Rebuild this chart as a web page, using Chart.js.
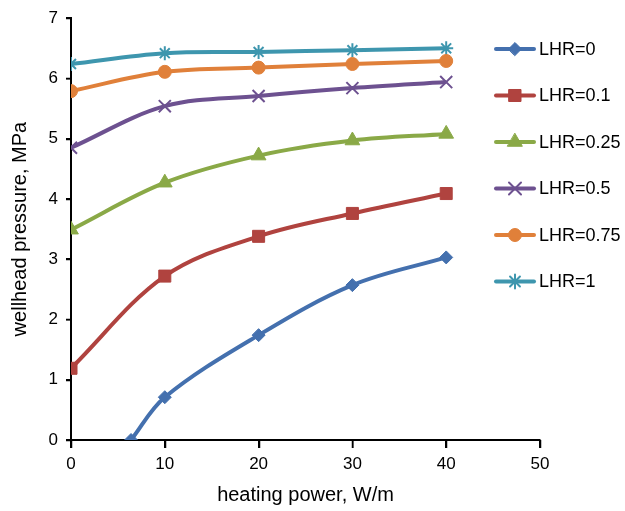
<!DOCTYPE html>
<html lang="en">
<head>
<meta charset="UTF-8">
<title>Wellhead pressure vs heating power</title>
<script src="https://cdn.jsdelivr.net/npm/chart.js"></script>
<style>
    body { margin: 0; background: #fff; }
    #chart-container { width: 625px; height: 511px; }
</style>
</head>
<body>
<div id="chart-container">
    <canvas id="chart" width="625" height="511"></canvas>
</div>
<script>
    // data
    const power = [0, 10, 20, 30, 40];
    const lhr0 = [{x: 6.4, y: 0}, {x: 10, y: 0.71}, {x: 20, y: 1.74}, {x: 30, y: 2.57}, {x: 40, y: 3.03}];
    const lhr01 = [1.19, 2.72, 3.38, 3.76, 4.09];
    const lhr025 = [3.49, 4.27, 4.72, 4.97, 5.08];
    const lhr05 = [4.85, 5.54, 5.71, 5.84, 5.94];
    const lhr075 = [5.79, 6.11, 6.18, 6.24, 6.29];
    const lhr1 = [6.24, 6.42, 6.44, 6.47, 6.5];
    const xTicks = [0, 10, 20, 30, 40, 50];
    const yTicks = [0, 1, 2, 3, 4, 5, 6, 7];

    const toPts = arr => arr.map((v, i) => ({x: power[i], y: v}));
    const FONT = '"Liberation Sans", Arial, sans-serif';

    function ds(label, data, color, style, radius) {
        return {
            label: label,
            data: data,
            borderColor: color,
            backgroundColor: color,
            borderWidth: 4,
            pointStyle: style,
            pointRadius: radius,
            pointBorderWidth: style === 'crossRot' || style === 'star' ? 2 : 1,
            tension: 0.35,
            fill: false
        };
    }

    // outward tick marks on both axes (drawn through the scales)
    const tickPlugin = {
        id: 'axisTicks',
        afterDraw(chart) {
            const c = chart.ctx, xs = chart.scales.x, ys = chart.scales.y;
            const a = chart.chartArea;
            c.save();
            c.strokeStyle = '#000';
            c.lineWidth = 1.5;
            c.beginPath();
            xTicks.forEach(v => {
                const px = Math.round(xs.getPixelForValue(v)) + 0.5;
                c.moveTo(px, a.bottom);
                c.lineTo(px, a.bottom + 8);
            });
            yTicks.forEach(v => {
                const py = Math.round(ys.getPixelForValue(v)) + 0.5;
                c.moveTo(a.left, py);
                c.lineTo(a.left - 5, py);
            });
            c.stroke();
            c.restore();
        }
    };

    // legend drawn on top of the plot area like the original
    const legendPlugin = {
        id: 'sideLegend',
        afterDraw(chart) {
            const c = chart.ctx;
            const x0 = 496, x1 = 534, y0 = 49, step = 46.5;
            chart.data.datasets.forEach((d, i) => {
                const y = y0 + i * step;
                c.save();
                c.strokeStyle = d.borderColor;
                c.lineWidth = 4;
                c.lineCap = 'round';
                c.beginPath();
                c.moveTo(x0, y);
                c.lineTo(x1, y);
                c.stroke();
                c.fillStyle = d.backgroundColor;
                c.lineWidth = d.pointBorderWidth;
                Chart.helpers.drawPoint(c, {pointStyle: d.pointStyle, radius: d.pointRadius, rotation: 0, borderWidth: d.pointBorderWidth}, (x0 + x1) / 2, y);
                c.fillStyle = '#000';
                c.font = '18px ' + FONT;
                c.textBaseline = 'middle';
                c.fillText(d.label, 539, y + 1);
                c.restore();
            });
        }
    };

    const gridOpts = len => ({
        display: true,
        drawOnChartArea: false,
        drawTicks: true,
        tickLength: len,
        color: '#000',
        lineWidth: 1.5,
        tickColor: '#000',
        tickWidth: 1.5
    });

    const ctx = document.getElementById('chart').getContext('2d');
    new Chart(ctx, {
        type: 'line',
        data: {
            datasets: [
                ds('LHR=0', lhr0, '#4470ae', 'rectRot', 6.5),
                ds('LHR=0.1', toPts(lhr01), '#b0433f', 'rect', 8.5),
                ds('LHR=0.25', toPts(lhr025), '#8aa947', 'triangle', 8.5),
                ds('LHR=0.5', toPts(lhr05), '#6d5190', 'crossRot', 8.5),
                ds('LHR=0.75', toPts(lhr075), '#e0803a', 'circle', 6.5),
                ds('LHR=1', toPts(lhr1), '#3e96ae', 'star', 7)
            ]
        },
        options: {
            responsive: false,
            animation: false,
            layout: { padding: { top: 17, right: 85, left: 4, bottom: 0 } },
            plugins: { legend: { display: false }, tooltip: { enabled: false } },
            scales: {
                x: {
                    type: 'linear',
                    min: 0, max: 50,
                    afterBuildTicks: s => { s.ticks = xTicks.map(v => ({value: v})); },
                    grid: gridOpts(8),
                    border: { color: '#000', width: 2 },
                    ticks: { color: '#000', font: { size: 17, family: FONT }, padding: 6 },
                    title: { display: true, text: 'heating power, W/m', color: '#000', font: { size: 20, family: FONT }, padding: { top: 5 } },
                    afterFit: s => { s.height = 71; }
                },
                y: {
                    min: 0, max: 7,
                    afterBuildTicks: s => { s.ticks = yTicks.map(v => ({value: v})); },
                    grid: gridOpts(5),
                    border: { color: '#000', width: 2 },
                    ticks: { color: '#000', font: { size: 17, family: FONT }, padding: 8 },
                    title: { display: true, text: 'wellhead pressure, MPa', color: '#000', font: { size: 20, family: FONT }, padding: { bottom: 4 } },
                    afterFit: s => { s.width = 67; }
                }
            }
        },
        plugins: [tickPlugin, legendPlugin]
    });
</script>
</body>
</html>
